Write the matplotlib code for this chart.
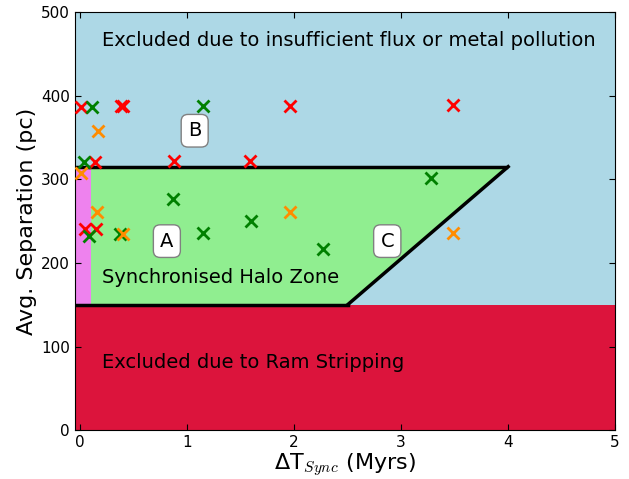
import matplotlib
matplotlib.use("Agg")
import matplotlib.pyplot as plt

plt.rcParams['mathtext.fontset'] = 'cm'
plt.rcParams['xtick.direction'] = 'in'
plt.rcParams['ytick.direction'] = 'in'
plt.rcParams['xtick.top'] = True
plt.rcParams['ytick.right'] = True
plt.rcParams['xtick.major.size'] = 4
plt.rcParams['ytick.major.size'] = 4

# Data
red_x = [0.007, 0.38, 0.40, 1.96, 3.48, 0.14, 0.88, 1.59, 0.047, 0.15]
red_y = [386, 387, 387, 387, 389, 321, 322, 322, 241, 241]
green_x = [0.11, 1.15, 0.04, 0.87, 1.15, 1.60, 2.27, 3.28, 0.08, 0.37]
green_y = [386, 387, 321, 276, 236, 250, 217, 302, 232, 235]
orange_x = [0.165, 0.01, 0.16, 0.40, 1.96, 3.48]
orange_y = [358, 307, 261, 234, 261, 236]

ram_limit = 150
sep_limit = 315
dt_limit_low = 2.5
dt_limit_high = 4.0
violet_edge = 0.1

fig = plt.figure(figsize=(6.29, 4.79), dpi=100, facecolor='white')
ax = fig.add_axes([0.119, 0.102, 0.859, 0.873])
ax.set_facecolor('#add8e6')
xmin, xmax = -0.05, 5
ax.set_xlim(xmin, xmax)
ax.set_ylim(0, 500)

ax.axhspan(0, ram_limit, color='#dc143c', lw=0, zorder=1)
ax.fill([xmin, dt_limit_low, dt_limit_high, xmin],
        [ram_limit, ram_limit, sep_limit, sep_limit], color='#90ee90', lw=0, zorder=1)
ax.fill([xmin, violet_edge, violet_edge, xmin],
        [ram_limit, ram_limit, sep_limit, sep_limit], color='#ee82ee', lw=0, zorder=1.5)

ax.plot([xmin, 3.98], [sep_limit, sep_limit], color='k', lw=2.5, zorder=2)
ax.plot([dt_limit_low, dt_limit_high], [ram_limit, sep_limit], color='k', lw=2.5, zorder=2)
ax.plot([xmin, dt_limit_low], [ram_limit, ram_limit], color='k', lw=2.5, zorder=2)

ms = 9
mew = 2
ax.plot(red_x, red_y, 'x', color='#ff0000', ms=ms, mew=mew, zorder=3)
ax.plot(green_x, green_y, 'x', color='#008000', ms=ms, mew=mew, zorder=3)
ax.plot(orange_x, orange_y, 'x', color='#ff8c00', ms=ms, mew=mew, zorder=3)

fs = 14
ax.text(0.2, 466, 'Excluded due to insufficient flux or metal pollution', fontsize=fs, va='center', zorder=4)
ax.text(0.2, 182, 'Synchronised Halo Zone', fontsize=fs, va='center', zorder=4)
ax.text(0.2, 81, 'Excluded due to Ram Stripping', fontsize=fs, va='center', zorder=4)
box = dict(boxstyle='round,pad=0.35', facecolor='white', edgecolor='0.5')
ax.text(0.81, 226, 'A', fontsize=fs, ha='center', va='center', bbox=box, zorder=4)
ax.text(1.07, 358, 'B', fontsize=fs, ha='center', va='center', bbox=box, zorder=4)
ax.text(2.87, 226, 'C', fontsize=fs, ha='center', va='center', bbox=box, zorder=4)

ax.set_xticks([0, 1, 2, 3, 4, 5])
ax.set_yticks([0, 100, 200, 300, 400, 500])
ax.tick_params(labelsize=11)
ax.set_xlabel('ΔT$_{Sync}$ (Myrs)', fontsize=16, labelpad=1)
ax.set_ylabel('Avg. Separation (pc)', fontsize=16, labelpad=3)

fig.savefig('out.png', dpi=100, facecolor='white')
